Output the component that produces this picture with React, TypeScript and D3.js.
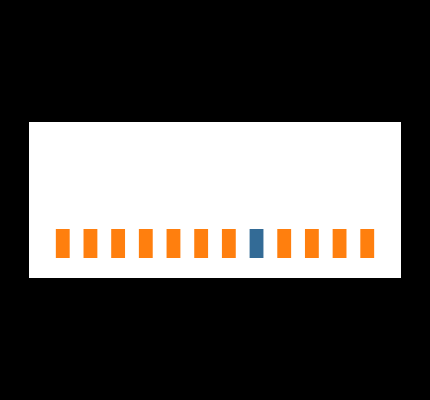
import React, { useEffect, useRef } from 'react';
import * as d3 from 'd3';

const categories = ['Jan', 'Feb', 'Mar', 'Apr', 'May', 'Jun', 'Jul', 'Aug', 'Sep', 'Oct', 'Nov', 'Dec'];
const values = [1, 1, 1, 1, 1, 1, 1, 1, 1, 1, 1, 1];
const highlighted = ['Aug'];
const yDomain = [0, 4];

const width = 430;
const height = 400;

export default function App() {
  const svgRef = useRef<SVGSVGElement>(null);

  useEffect(() => {
    if (!svgRef.current) return;
    const svg = d3.select(svgRef.current);
    svg.selectAll('*').remove();

    // black page behind the card
    svg.append('rect')
      .attr('width', width)
      .attr('height', height)
      .attr('fill', '#000');

    const card = { x: 29, y: 122, w: 372, h: 156 };
    svg.append('rect')
      .attr('x', card.x)
      .attr('y', card.y)
      .attr('width', card.w)
      .attr('height', card.h)
      .attr('fill', '#fff');

    const margin = { top: 20, right: 13, bottom: 20, left: 13 };

    const xScale = d3.scaleBand<string>()
      .domain(categories)
      .range([card.x + margin.left, card.x + card.w - margin.right])
      .paddingInner(0.5)
      .paddingOuter(0.5);

    const yScale = d3.scaleLinear()
      .domain(yDomain)
      .range([card.y + card.h - margin.bottom, card.y + margin.top]);

    const data = categories.map((c, i) => ({ c, v: values[i] }));

    svg.selectAll('.bar')
      .data(data)
      .enter()
      .append('rect')
      .attr('class', 'bar')
      .attr('x', d => xScale(d.c) as number)
      .attr('y', d => yScale(d.v))
      .attr('width', xScale.bandwidth())
      .attr('height', d => yScale(0) - yScale(d.v))
      .attr('fill', d => highlighted.includes(d.c) ? '#336b96' : '#ff7f0e');
  }, []);

  return (
    <div style={{ position: 'fixed', left: 0, top: 0, width, height, background: '#000' }}>
      <svg ref={svgRef} width={width} height={height} style={{ display: 'block' }} />
    </div>
  );
}
